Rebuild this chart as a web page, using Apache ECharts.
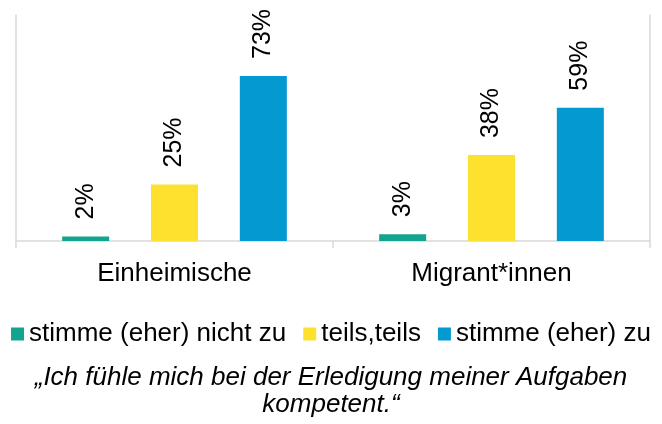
<!DOCTYPE html>
<html>
<head>
<meta charset="utf-8">
<script src="https://cdn.jsdelivr.net/npm/echarts@6/dist/echarts.min.js"></script>
<style>
  html, body { margin: 0; padding: 0; background: #fff; }
  #chart { width: 662px; height: 424px; }
</style>
</head>
<body>
<div id="chart"></div>
<script>
// Daten
const categories = ['Einheimische', 'Migrant*innen'];
const seriesNames = ['stimme (eher) nicht zu', 'teils,teils', 'stimme (eher) zu'];
const nichtZu = [2, 3];
const teilsTeils = [25, 38];
const eherZu = [73, 59];
const colors = ['#12a48e', '#fee12f', '#0499d0'];

const FONT = '"Liberation Sans", Arial, sans-serif';

document.addEventListener('DOMContentLoaded', () => {
    const chart = echarts.init(document.getElementById('chart'));
    const values = [nichtZu, teilsTeils, eherZu];

    const option = {
        animation: false,
        textStyle: { fontFamily: FONT },
        grid: { left: 16, right: 12, top: 15, bottom: 183 },
        title: {
            text: '„Ich fühle mich bei der Erledigung meiner Aufgaben\nkompetent.“',
            left: 'center',
            top: 359,
            textStyle: {
                fontFamily: FONT,
                fontSize: 26,
                fontStyle: 'italic',
                fontWeight: 'normal',
                color: '#000',
                lineHeight: 27,
                align: 'center'
            }
        },
        legend: {
            data: seriesNames,
            top: 316,
            left: 'center',
            itemWidth: 13,
            itemHeight: 13,
            itemGap: 17,
            icon: 'rect',
            textStyle: { fontFamily: FONT, fontSize: 26, color: '#000' }
        },
        xAxis: {
            type: 'category',
            data: categories,
            axisLine: { show: true, lineStyle: { color: '#d9d9d9', width: 1.5 } },
            axisTick: { show: true, length: 7, alignWithLabel: false, lineStyle: { color: '#d9d9d9', width: 1.5 } },
            axisLabel: { fontFamily: FONT, fontSize: 26, color: '#000', margin: 20 }
        },
        yAxis: [
            {
                type: 'value',
                min: 0,
                max: 100,
                position: 'left',
                axisLine: { show: true, lineStyle: { color: '#d9d9d9', width: 1.5 } },
                axisTick: { show: false },
                axisLabel: { show: false },
                splitLine: { show: false }
            },
            {
                type: 'value',
                min: 0,
                max: 100,
                position: 'right',
                axisLine: { show: true, lineStyle: { color: '#d9d9d9', width: 1.5 } },
                axisTick: { show: false },
                axisLabel: { show: false },
                splitLine: { show: false }
            }
        ],
        series: seriesNames.map((name, i) => ({
            name: name,
            type: 'bar',
            data: values[i],
            barWidth: 47,
            barGap: '89%',
            itemStyle: { color: colors[i] },
            label: {
                show: true,
                position: 'top',
                rotate: 90,
                align: 'left',
                verticalAlign: 'middle',
                distance: 17,
                fontFamily: FONT,
                fontSize: 25,
                color: '#000',
                formatter: '{c}%'
            }
        }))
    };

    chart.setOption(option);
    window.addEventListener('resize', () => chart.resize());
});
</script>
</body>
</html>
